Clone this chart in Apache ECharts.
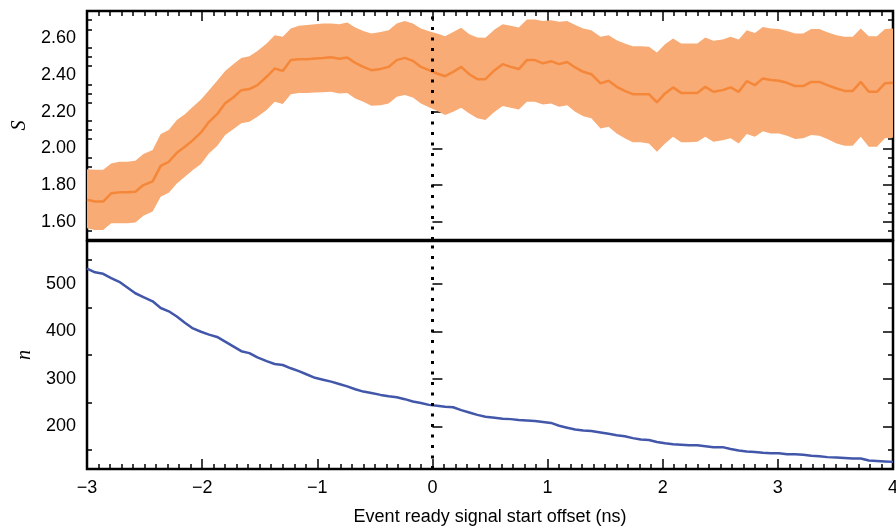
<!DOCTYPE html>
<html>
<head>
<meta charset="utf-8">
<script src="https://cdn.jsdelivr.net/npm/echarts@6/dist/echarts.min.js"></script>
<style>
  html, body { margin: 0; padding: 0; background: #fff; }
  #chart { width: 896px; height: 527px; }
</style>
</head>
<body>
<div id="chart"></div>
<script>
// event ready signal start offset (ns), one entry per sample
const offsets = [
  -3.00, -2.93, -2.86, -2.79, -2.72, -2.65, -2.58, -2.51, -2.43, -2.36,
  -2.29, -2.22, -2.15, -2.08, -2.01, -1.94, -1.87, -1.80, -1.73, -1.66,
  -1.59, -1.52, -1.44, -1.37, -1.30, -1.23, -1.16, -1.09, -1.02, -0.95,
  -0.88, -0.81, -0.74, -0.67, -0.60, -0.53, -0.45, -0.38, -0.31, -0.24,
  -0.17, -0.10, -0.03, 0.04, 0.11, 0.18, 0.25, 0.32, 0.39, 0.46,
  0.54, 0.61, 0.68, 0.75, 0.82, 0.89, 0.96, 1.03, 1.10, 1.17,
  1.24, 1.31, 1.38, 1.46, 1.53, 1.60, 1.67, 1.74, 1.81, 1.88,
  1.95, 2.02, 2.09, 2.16, 2.23, 2.30, 2.37, 2.44, 2.52, 2.59,
  2.66, 2.73, 2.80, 2.87, 2.94, 3.01, 3.08, 3.15, 3.22, 3.29,
  3.36, 3.43, 3.51, 3.58, 3.65, 3.72, 3.79, 3.86, 3.93, 4.00
];

// S : mean and band edges
const meanS = [
  1.720, 1.710, 1.710, 1.755, 1.760, 1.760, 1.763, 1.800, 1.820, 1.905,
  1.927, 1.976, 2.009, 2.045, 2.087, 2.145, 2.187, 2.246, 2.278, 2.318,
  2.324, 2.345, 2.391, 2.436, 2.423, 2.482, 2.487, 2.487, 2.491, 2.494,
  2.498, 2.489, 2.496, 2.467, 2.445, 2.427, 2.434, 2.445, 2.482, 2.494,
  2.478, 2.445, 2.427, 2.409, 2.394, 2.418, 2.445, 2.405, 2.378, 2.378,
  2.427, 2.460, 2.445, 2.433, 2.482, 2.482, 2.464, 2.476, 2.460, 2.472,
  2.442, 2.418, 2.405, 2.355, 2.369, 2.336, 2.314, 2.296, 2.296, 2.296,
  2.251, 2.300, 2.333, 2.303, 2.303, 2.303, 2.336, 2.309, 2.318, 2.333,
  2.309, 2.367, 2.345, 2.382, 2.373, 2.369, 2.358, 2.340, 2.340, 2.363,
  2.363, 2.345, 2.327, 2.314, 2.314, 2.363, 2.309, 2.309, 2.355, 2.358
];
const upperS = [
  1.886, 1.883, 1.883, 1.918, 1.927, 1.927, 1.933, 1.969, 1.991, 2.078,
  2.100, 2.155, 2.187, 2.227, 2.267, 2.318, 2.369, 2.423, 2.460, 2.494,
  2.503, 2.532, 2.573, 2.618, 2.609, 2.655, 2.669, 2.673, 2.678, 2.682,
  2.682, 2.678, 2.687, 2.660, 2.641, 2.627, 2.636, 2.645, 2.682, 2.696,
  2.682, 2.655, 2.640, 2.627, 2.612, 2.636, 2.658, 2.623, 2.605, 2.604,
  2.649, 2.678, 2.669, 2.660, 2.703, 2.703, 2.696, 2.700, 2.691, 2.695,
  2.673, 2.655, 2.645, 2.609, 2.618, 2.591, 2.573, 2.558, 2.558, 2.555,
  2.524, 2.569, 2.600, 2.573, 2.573, 2.573, 2.605, 2.587, 2.594, 2.609,
  2.594, 2.645, 2.630, 2.663, 2.655, 2.652, 2.641, 2.627, 2.627, 2.652,
  2.652, 2.634, 2.618, 2.609, 2.609, 2.655, 2.612, 2.612, 2.652, 2.655
];
const lowerS = [
  1.564, 1.555, 1.555, 1.591, 1.591, 1.591, 1.595, 1.633, 1.655, 1.736,
  1.758, 1.809, 1.845, 1.882, 1.915, 1.973, 2.013, 2.073, 2.104, 2.137,
  2.145, 2.173, 2.209, 2.254, 2.242, 2.295, 2.303, 2.303, 2.305, 2.307,
  2.309, 2.300, 2.303, 2.273, 2.254, 2.233, 2.236, 2.245, 2.282, 2.291,
  2.278, 2.245, 2.224, 2.205, 2.182, 2.200, 2.222, 2.191, 2.164, 2.155,
  2.200, 2.231, 2.222, 2.213, 2.254, 2.254, 2.240, 2.245, 2.227, 2.236,
  2.200, 2.176, 2.164, 2.109, 2.118, 2.082, 2.055, 2.033, 2.033, 2.027,
  1.982, 2.027, 2.064, 2.033, 2.033, 2.036, 2.064, 2.036, 2.045, 2.055,
  2.027, 2.078, 2.064, 2.094, 2.082, 2.082, 2.069, 2.051, 2.055, 2.073,
  2.069, 2.051, 2.027, 2.014, 2.014, 2.064, 2.009, 2.009, 2.055, 2.058
];

// n : number of events
const countN = [
  532, 524, 521, 512, 504, 492, 480, 472, 463, 449,
  442, 431, 418, 406, 399, 393, 388, 378, 368, 358,
  354, 345, 337, 331, 329, 322, 316, 309, 302, 298,
  294, 289, 284, 278, 273, 270, 266, 263, 261, 257,
  252, 249, 245, 243, 241, 240, 234, 229, 224, 220,
  218, 216, 215, 213, 212, 211, 209, 207, 201, 197,
  193, 191, 190, 187, 184, 181, 179, 175, 172, 171,
  167, 164, 162, 161, 160, 160, 158, 156, 156, 152,
  149, 147, 146, 144, 143, 143, 141, 141, 140, 138,
  137, 135, 134, 133, 132, 132, 128, 127, 126, 125
];

// tick values
const sMajorTicks = [1.6, 1.8, 2.0, 2.2, 2.4, 2.6];
const sMinorTicks = [1.55, 1.65, 1.7, 1.75, 1.85, 1.9, 1.95, 2.05, 2.1, 2.15,
  2.25, 2.3, 2.35, 2.45, 2.5, 2.55, 2.65, 2.7];
const nMajorTicks = [200, 300, 400, 500];
const nMinorTicks = [150, 250, 350, 450, 550];

const chart = echarts.init(document.getElementById('chart'));

const bandColor = '#f8ab74';
const meanColor = '#f5873a';
const nColor = '#4257a9';
const labelFont = { fontFamily: 'Liberation Sans', fontSize: 18, color: '#000' };
const nameFont = { fontFamily: 'Liberation Serif', fontStyle: 'italic', fontSize: 20, color: '#000' };

function yAxisPair(gridIndex, min, max, majors, minors, name, nameGap, fmt) {
  const base = {
    type: 'value', gridIndex: gridIndex, min: min, max: max,
    axisLine: { show: false }, splitLine: { show: false }
  };
  const tick = (vals, len) => ({
    show: true, inside: true, length: len, customValues: vals,
    lineStyle: { color: '#000', width: 1.5 }
  });
  return [
    Object.assign({}, base, {
      position: 'left',
      name: name, nameLocation: 'middle', nameRotate: 90, nameGap: nameGap,
      nameTextStyle: nameFont,
      axisTick: tick(majors, 10),
      axisLabel: Object.assign({ customValues: majors, margin: 11, formatter: fmt }, labelFont)
    }),
    Object.assign({}, base, { position: 'left', axisTick: tick(minors, 5), axisLabel: { show: false } }),
    Object.assign({}, base, { position: 'right', axisTick: tick(majors, 10), axisLabel: { show: false } }),
    Object.assign({}, base, { position: 'right', axisTick: tick(minors, 5), axisLabel: { show: false } })
  ];
}

const zeroLine = {
  silent: true,
  symbol: 'none',
  label: { show: false },
  lineStyle: { color: '#000', width: 3, type: [3, 7.5] },
  data: [{ xAxis: 0 }]
};

const gridBase = {
  left: 87, right: 3, show: true, borderColor: '#000', borderWidth: 2.5,
  containLabel: false, outerBoundsMode: 'none'
};

const option = {
  animation: false,
  backgroundColor: '#fff',
  grid: [
    Object.assign({ top: 11, height: 229 }, gridBase),
    Object.assign({ top: 241, height: 228 }, gridBase)
  ],
  xAxis: [
    {
      type: 'value', gridIndex: 0, min: -3, max: 4, interval: 1, position: 'top',
      axisLine: { show: false }, splitLine: { show: false },
      axisTick: { inside: true, length: 10, lineStyle: { color: '#000', width: 1.5 } },
      minorTick: { show: true, splitNumber: 10, length: 5, lineStyle: { color: '#000', width: 1.5 } },
      axisLabel: { show: false }
    },
    {
      type: 'value', gridIndex: 1, min: -3, max: 4, interval: 1, position: 'bottom',
      axisLine: { show: false }, splitLine: { show: false },
      axisTick: { inside: true, length: 10, lineStyle: { color: '#000', width: 1.5 } },
      minorTick: { show: true, splitNumber: 10, length: 5, lineStyle: { color: '#000', width: 1.5 } },
      axisLabel: Object.assign({ margin: 10, formatter: v => String(v).replace('-', '\u2212') }, labelFont),
      name: 'Event ready signal start offset (ns)',
      nameLocation: 'middle', nameGap: 39,
      nameTextStyle: { fontFamily: 'Liberation Sans', fontSize: 18, color: '#000' }
    }
  ],
  yAxis: [].concat(
    yAxisPair(0, 1.5, 2.75, sMajorTicks, sMinorTicks, 'S', 55, v => v.toFixed(2)),
    yAxisPair(1, 110, 590, nMajorTicks, nMinorTicks, 'n', 52, v => String(v))
  ),
  series: [
    {
      type: 'custom',
      xAxisIndex: 0, yAxisIndex: 0,
      silent: true, clip: true, z: 1,
      data: [[offsets[0], meanS[0]]],
      renderItem: function (params, api) {
        const pts = [];
        for (let i = 0; i < offsets.length; i++) pts.push(api.coord([offsets[i], upperS[i]]));
        for (let i = offsets.length - 1; i >= 0; i--) pts.push(api.coord([offsets[i], lowerS[i]]));
        return { type: 'polygon', shape: { points: pts }, style: { fill: bandColor } };
      }
    },
    {
      type: 'line', xAxisIndex: 0, yAxisIndex: 0, z: 2,
      data: offsets.map((x, i) => [x, meanS[i]]),
      showSymbol: false, silent: true,
      lineStyle: { color: meanColor, width: 2.5 },
      markLine: zeroLine
    },
    {
      type: 'line', xAxisIndex: 1, yAxisIndex: 4, z: 2,
      data: offsets.map((x, i) => [x, countN[i]]),
      showSymbol: false, silent: true,
      lineStyle: { color: nColor, width: 2.5 },
      markLine: zeroLine
    }
  ]
};

chart.setOption(option);
</script>
</body>
</html>
